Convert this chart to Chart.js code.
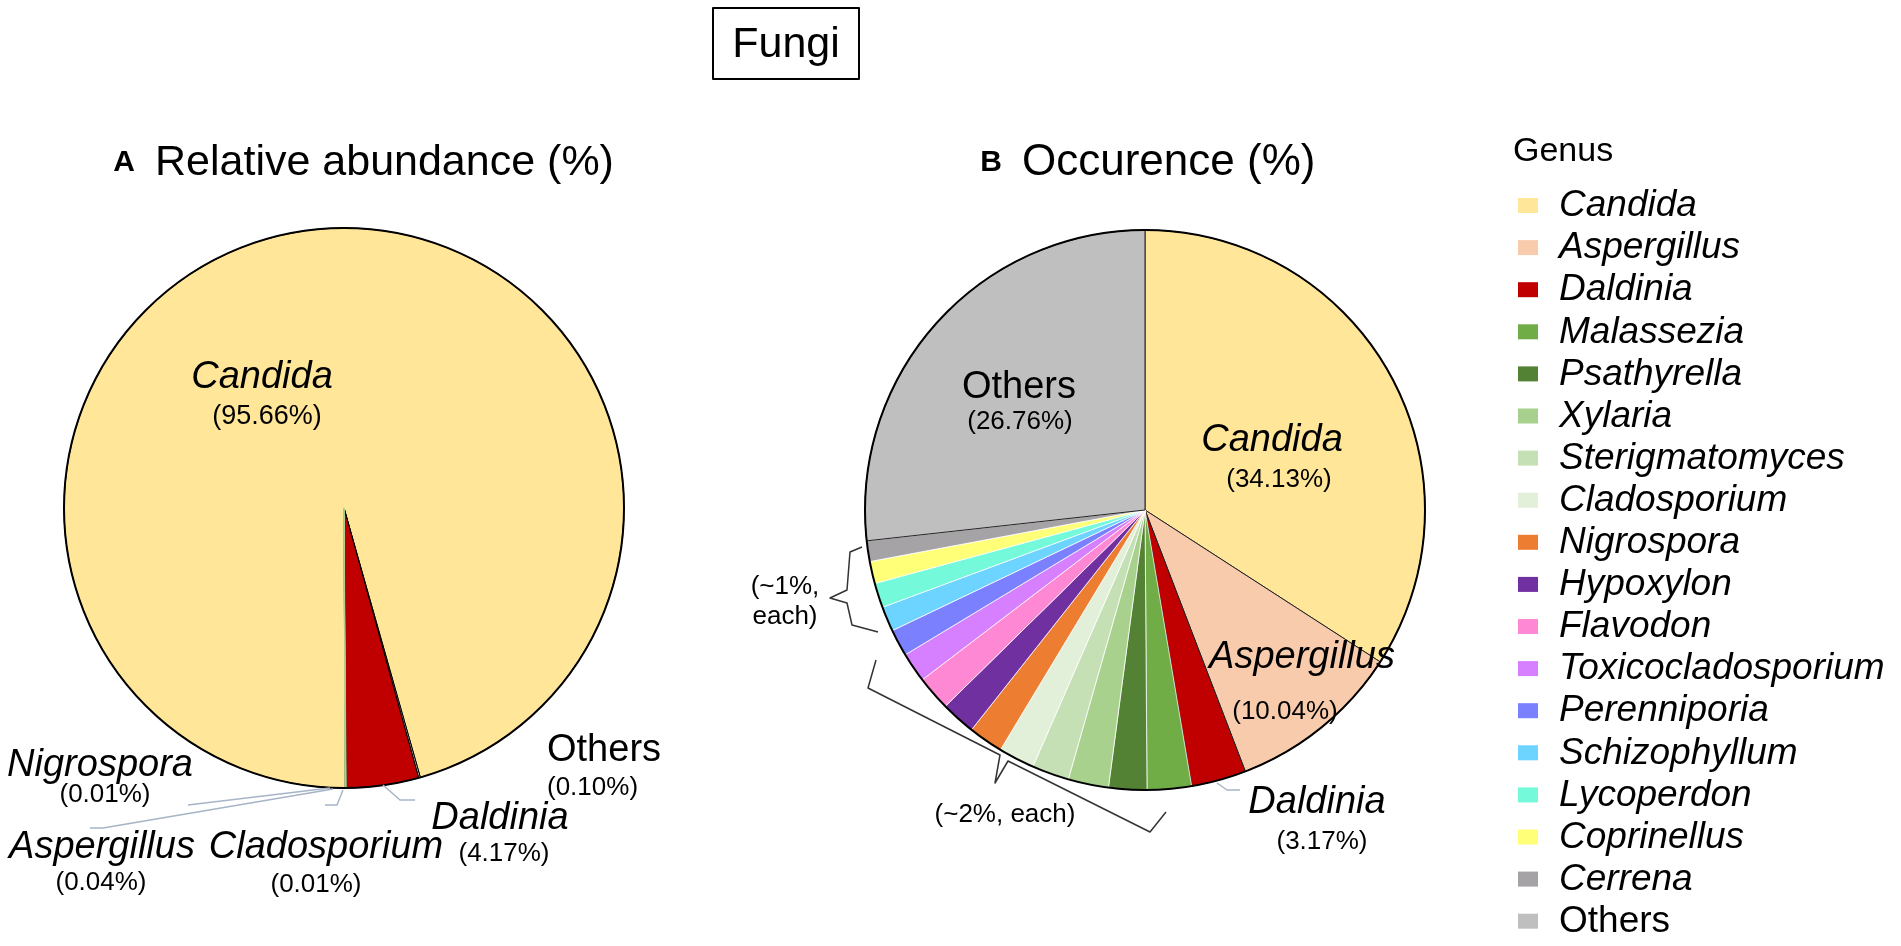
<!DOCTYPE html>
<html>
<head>
<meta charset="utf-8">
<title>Fungi</title>
<script src="https://cdn.jsdelivr.net/npm/chart.js@4.4.1/dist/chart.umd.min.js"></script>
<style>
  html, body { margin: 0; padding: 0; background: #fff; }
  #wrap { position: relative; width: 1901px; height: 946px; overflow: hidden; }
  canvas { position: absolute; left: 0; top: 0; }
</style>
</head>
<body>
<div id="wrap">
  <canvas id="chart-a" width="1901" height="946"></canvas>
  <canvas id="chart-b" width="1901" height="946"></canvas>
</div>
<script>
// genus list shared by the legend and the occurrence pie
const genera = ['Candida', 'Aspergillus', 'Daldinia', 'Malassezia', 'Psathyrella', 'Xylaria',
    'Sterigmatomyces', 'Cladosporium', 'Nigrospora', 'Hypoxylon', 'Flavodon', 'Toxicocladosporium',
    'Perenniporia', 'Schizophyllum', 'Lycoperdon', 'Coprinellus', 'Cerrena', 'Others'];
const genusColors = ['#FFE699', '#F8CBAD', '#C00000', '#70AD47', '#548235', '#A9D18E',
    '#C5E0B4', '#E2F0D9', '#ED7D31', '#7030A0', '#FF88D4', '#D680FF',
    '#7B80FF', '#6DD3FF', '#74FADA', '#FFFF78', '#A6A3A6', '#BFBFBF'];

// B: occurrence (%)
const occurrence = [34.13, 10.04, 3.17, 2.55, 2.2, 2.33, 2.14, 2.08, 2.0, 2.0, 2.0, 1.72,
    1.56, 1.44, 1.42, 1.28, 1.19, 26.76];

// A: relative abundance (%)
const abundanceGenera = ['Candida', 'Others', 'Daldinia', 'Aspergillus', 'Nigrospora', 'Cladosporium'];
const abundance = [95.66, 0.10, 4.17, 0.04, 0.01, 0.01];

const FONT = '"Liberation Sans", Arial, sans-serif';
const leaderColor = '#A7B4C7';

function colorOf(name) {
    return genusColors[genera.indexOf(name)];
}

function font(size, italic, bold) {
    return (italic ? 'italic ' : '') + (bold ? 'bold ' : '') + size + 'px ' + FONT;
}

function drawText(ctx, t) {
    ctx.font = font(t.size, t.italic, t.bold);
    ctx.textAlign = t.align || 'center';
    ctx.textBaseline = 'middle';
    ctx.fillStyle = '#000';
    ctx.fillText(t.text, t.x, t.y);
}

function drawPath(ctx, pts, color, width) {
    ctx.beginPath();
    ctx.moveTo(pts[0][0], pts[0][1]);
    for (let i = 1; i < pts.length; i++) ctx.lineTo(pts[i][0], pts[i][1]);
    ctx.strokeStyle = color;
    ctx.lineWidth = width;
    ctx.lineJoin = 'round';
    ctx.stroke();
}

// black outline round the whole pie, then labels, leaders and extras
const pieNotes = {
    id: 'pieNotes',
    afterDatasetsDraw(chart) {
        const arc = chart.getDatasetMeta(0).data[0];
        const ctx = chart.ctx;
        ctx.save();
        ctx.beginPath();
        ctx.arc(arc.x, arc.y, arc.outerRadius, 0, Math.PI * 2);
        ctx.strokeStyle = '#000';
        ctx.lineWidth = 2;
        ctx.stroke();
        ctx.restore();
    },
    afterDraw(chart, args, opts) {
        const ctx = chart.ctx;
        ctx.save();
        (opts.lines || []).forEach(l => drawPath(ctx, l.pts, l.color, l.width));
        (opts.texts || []).forEach(t => drawText(ctx, t));
        if (opts.extra) opts.extra(ctx);
        ctx.restore();
    }
};

const notesA = [
    { text: 'A', x: 124, y: 163, size: 30, bold: true },
    { text: 'Relative abundance (%)', x: 155, y: 163, size: 43, align: 'left' },
    { text: 'Candida', x: 262, y: 377, size: 38, italic: true },
    { text: '(95.66%)', x: 267, y: 417, size: 27 },
    { text: 'Nigrospora', x: 100, y: 765, size: 38, italic: true },
    { text: '(0.01%)', x: 105, y: 795, size: 26 },
    { text: 'Aspergillus', x: 102, y: 847, size: 38, italic: true },
    { text: '(0.04%)', x: 101, y: 883, size: 26 },
    { text: 'Cladosporium', x: 326, y: 847, size: 38, italic: true },
    { text: '(0.01%)', x: 316, y: 885, size: 26 },
    { text: 'Daldinia', x: 500, y: 818, size: 38, italic: true },
    { text: '(4.17%)', x: 504, y: 854, size: 26 },
    { text: 'Others', x: 547, y: 751, size: 38, align: 'left' },
    { text: '(0.10%)', x: 547, y: 788, size: 26, align: 'left' }
];
const linesA = [
    { pts: [[330, 788], [188, 805]], color: leaderColor, width: 1.5 },
    { pts: [[333, 789], [103, 828], [90, 828]], color: leaderColor, width: 1.5 },
    { pts: [[343, 790], [337, 805], [325, 805]], color: leaderColor, width: 1.5 },
    { pts: [[383, 785], [400, 800], [415, 800]], color: leaderColor, width: 1.5 }
];

const notesB = [
    { text: 'B', x: 991, y: 163, size: 30, bold: true },
    { text: 'Occurence (%)', x: 1022, y: 163, size: 44, align: 'left' },
    { text: 'Others', x: 1019, y: 388, size: 38 },
    { text: '(26.76%)', x: 1020, y: 422, size: 26 },
    { text: 'Candida', x: 1272, y: 440, size: 38, italic: true },
    { text: '(34.13%)', x: 1279, y: 480, size: 26 },
    { text: 'Aspergillus', x: 1302, y: 657, size: 38, italic: true },
    { text: '(10.04%)', x: 1285, y: 712, size: 26 },
    { text: 'Daldinia', x: 1317, y: 802, size: 38, italic: true },
    { text: '(3.17%)', x: 1322, y: 842, size: 26 },
    { text: '(~1%,', x: 785, y: 587, size: 26 },
    { text: 'each)', x: 785, y: 617, size: 26 },
    { text: '(~2%, each)', x: 1005, y: 815, size: 26 }
];
const linesB = [
    { pts: [[1217, 783], [1227, 790], [1240, 790]], color: leaderColor, width: 1.5 },
    { pts: [[862, 547], [850, 552], [847, 590], [830, 598], [847, 603], [852, 625], [878, 632]], color: '#333', width: 1.5 },
    { pts: [[876, 660], [868, 688], [1000, 755], [995, 783], [1008, 761], [1150, 832], [1166, 812]], color: '#333', width: 1.5 }
];

function drawHeaderAndLegend(ctx) {
    // boxed panel title
    ctx.strokeStyle = '#000';
    ctx.lineWidth = 2;
    ctx.strokeRect(713, 8, 146, 71);
    drawText(ctx, { text: 'Fungi', x: 786, y: 45, size: 43 });

    drawText(ctx, { text: 'Genus', x: 1513, y: 152, size: 34, align: 'left' });
    genera.forEach((g, i) => {
        const y = 206 + i * 42.1;
        ctx.fillStyle = genusColors[i];
        ctx.fillRect(1518, y - 8, 20, 15);
        drawText(ctx, { text: g, x: 1559, y: y, size: 37, italic: g !== 'Others', align: 'left' });
    });
}

const baseOptions = (padding, notes) => ({
    responsive: false,
    animation: false,
    devicePixelRatio: 1,
    radius: 280,
    layout: { padding: padding },
    events: [],
    plugins: {
        legend: { display: false },
        tooltip: { enabled: false },
        pieNotes: notes
    }
});

// A: Daldinia wedge starts just before six o'clock
const optionsA = baseOptions({ left: 44, right: 1257, top: 208, bottom: 138 },
    { texts: notesA, lines: linesA });
optionsA.rotation = 164.5 - (abundance[0] + abundance[1]) * 3.6;

new Chart(document.getElementById('chart-a'), {
    type: 'pie',
    data: {
        labels: abundanceGenera,
        datasets: [{
            data: abundance,
            backgroundColor: abundanceGenera.map(colorOf),
            borderColor: ['#000', '#000', '#000', '#A9D18E', '#A9D18E', '#A9D18E'],
            borderWidth: [1, 1, 1, 1, 1, 1]
        }]
    },
    options: optionsA,
    plugins: [pieNotes]
});

const optionsB = baseOptions({ left: 845, right: 456, top: 210, bottom: 136 },
    { texts: notesB, lines: linesB, extra: drawHeaderAndLegend });

new Chart(document.getElementById('chart-b'), {
    type: 'pie',
    data: {
        labels: genera,
        datasets: [{
            data: occurrence,
            backgroundColor: genusColors,
            borderColor: genera.map((g, i) => (i < 3 || g === 'Others') ? '#222' : 'rgba(255,255,255,0.75)'),
            borderWidth: 1
        }]
    },
    options: optionsB,
    plugins: [pieNotes]
});
</script>
</body>
</html>
